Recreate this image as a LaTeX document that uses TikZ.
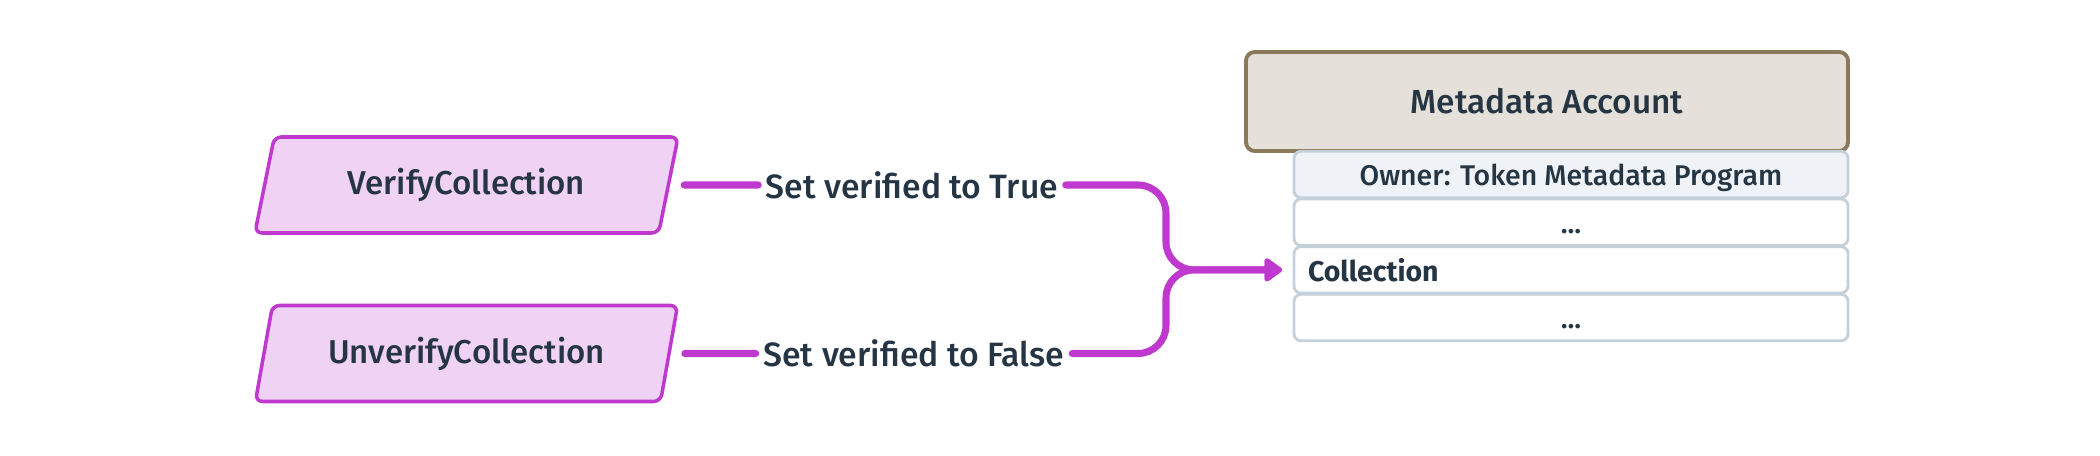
\documentclass[tikz,border=0pt]{standalone}
\usepackage{fontspec}
\setmainfont{Fira Sans}[UprightFont={* Medium}, BoldFont={* Bold}]
\usepackage{tikz}
\usetikzlibrary{arrows.meta,shapes.geometric,positioning}
\definecolor{ixpurple} {RGB}{191,57,206}
\definecolor{ixpink}   {RGB}{240,211,244}
\definecolor{txtdark}  {RGB}{37,53,68}
\definecolor{acctfill} {RGB}{229,225,218}
\definecolor{acctline} {RGB}{138,122,91}
\definecolor{rowline}  {RGB}{196,208,218}
\definecolor{ownerfill}{RGB}{239,243,247}
\tikzset{
  ixbox/.style   ={trapezium, trapezium left angle=77, trapezium right angle=103,
                   trapezium stretches=true, draw=ixpurple, fill=ixpink,
                   line width=1pt, rounded corners=2pt,
                   minimum width=4.25cm, minimum height=0.96cm,
                   font=\fontsize{9.4}{11}\selectfont, text=txtdark},
  lbl/.style     ={inner sep=2pt, font=\fontsize{9.6}{11}\selectfont, text=txtdark},
  acctbox/.style ={draw=acctline, fill=acctfill, line width=1.1pt,
                   rounded corners=2.5pt, minimum width=6.02cm,
                   minimum height=0.99cm, font=\fontsize{9.5}{11}\selectfont,
                   text=txtdark},
  rowbox/.style  ={draw=rowline, fill=white, line width=0.8pt,
                   rounded corners=2pt, minimum width=5.54cm,
                   minimum height=0.465cm, inner xsep=0.14cm, inner ysep=0pt,
                   text height=1.7ex, text depth=0.5ex,
                   outer sep=0pt, font=\fontsize{8.1}{10}\selectfont,
                   text=txtdark},
  conn/.style    ={draw=ixpurple, line width=2pt, line cap=round},
  connarr/.style ={conn, -{Triangle[length=5.5pt,width=7.5pt,round]},
                   rounded corners=0.28cm},
}
\begin{document}
\begin{tikzpicture}
  \useasboundingbox (0,0) rectangle (21,4.56);
  %% instructions
  \node[ixbox] (verify)   at (4.665,2.71)  {VerifyCollection};
  \node[ixbox] (unverify) at (4.665,1.025) {UnverifyCollection};
  \node[lbl] (settrue)  at (9.12,2.71)  {Set verified to True};
  \node[lbl] (setfalse) at (9.14,1.025) {Set verified to False};
  %% metadata account
  \node[acctbox] (acct) at (15.47,3.545) {Metadata Account};
  \node[rowbox, fill=ownerfill] (owner) at (15.71,2.815) {Owner: Token Metadata Program};
  \node[rowbox, below=0.012cm of owner] (dotsa) {...};
  \node[rowbox, below=0.012cm of dotsa, text width=5.26cm, align=left,
        font=\fontsize{8.1}{10}\selectfont\bfseries] (coll) {Collection};
  \node[rowbox, below=0.012cm of coll] (dotsb) {...};
  \coordinate (merge) at (coll.west -| 11.66,0);
  %% connectors
  \draw[conn, shorten <=0.14cm] (verify.east) -- (settrue.west);
  \draw[conn, shorten <=0.14cm] (unverify.east) -- (setfalse.west);
  \draw[connarr, shorten >=0.12cm] (settrue.east) -| (merge) -- (coll.west);
  \draw[connarr, shorten >=0.12cm] (setfalse.east) -| (merge) -- (coll.west);
\end{tikzpicture}
\end{document}
